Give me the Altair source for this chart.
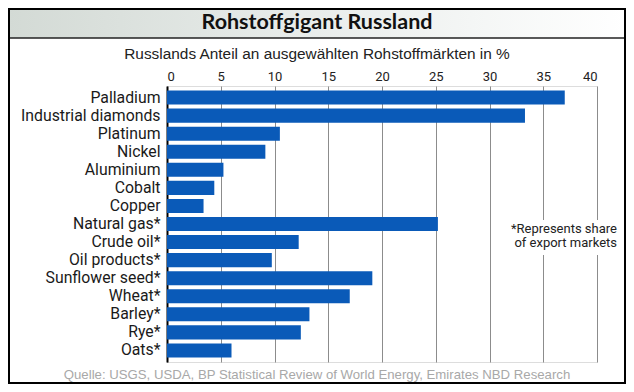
import altair as alt
import pandas as pd

# ---- data ----
commodities = ["Palladium", "Industrial diamonds", "Platinum", "Nickel", "Aluminium",
               "Cobalt", "Copper", "Natural gas*", "Crude oil*", "Oil products*",
               "Sunflower seed*", "Wheat*", "Barley*", "Rye*", "Oats*"]
shares = [37.0, 33.3, 10.5, 9.15, 5.25, 4.4, 3.4, 25.2, 12.25, 9.75, 19.1, 17.0, 13.25, 12.45, 6.0]
x_ticks = [0, 5, 10, 15, 20, 25, 30, 35, 40]

title_text = "Rohstoffgigant Russland"
subtitle_text = "Russlands Anteil an ausgewählten Rohstoffmärkten in %"
note_lines = ["*Represents share", "of export markets"]
source_text = "Quelle: USGS, USDA, BP Statistical Review of World Energy, Emirates NBD Research"

# ---- layout ----
W, H = 430, 276
PAD_L, PAD_T, PAD_R, PAD_B = 159, 78, 29, 22
TOT_W = PAD_L + W + PAD_R
TOT_H = PAD_T + H + PAD_B
HEAD_H = 30

df = pd.DataFrame({"commodity": commodities, "share": shares})
one = pd.DataFrame({"k": [0]})

bars = alt.Chart(df).mark_bar(color="#0a5ab8").encode(
    x=alt.X("share:Q",
            scale=alt.Scale(domain=[0, 40], nice=False),
            axis=alt.Axis(orient="top", values=x_ticks, title=None, grid=True,
                          gridColor="#8c8c8c", gridWidth=1, domain=False, ticks=False,
                          labelPadding=3, labelFont="Roboto", labelFontSize=13,
                          labelColor="#222222")),
    y=alt.Y("commodity:N", sort=commodities,
            scale=alt.Scale(paddingInner=0.22, paddingOuter=0.25),
            axis=alt.Axis(title=None, ticks=False, domain=True, domainColor="#000000",
                          domainWidth=2, labelPadding=7, labelFont="Roboto",
                          labelFontSize=15.8, labelColor="#1a1a1a", labelLimit=200)),
)

header = alt.Chart(one).mark_rect(
    fill=alt.LinearGradient(gradient="linear",
                            stops=[alt.GradientStop(color="#d3dad5", offset=0),
                                   alt.GradientStop(color="#e9edeb", offset=0.5),
                                   alt.GradientStop(color="#ffffff", offset=1)],
                            x1=0, x2=1, y1=0, y2=0)
).encode(x=alt.value(-PAD_L), x2=alt.value(TOT_W - PAD_L),
         y=alt.value(-PAD_T), y2=alt.value(-PAD_T + HEAD_H))

header_line = alt.Chart(one).mark_rule(color="#222222", strokeWidth=1.5).encode(
    x=alt.value(-PAD_L), x2=alt.value(TOT_W - PAD_L), y=alt.value(-PAD_T + HEAD_H))

border = alt.Chart(one).mark_rect(fillOpacity=0, stroke="#000000", strokeWidth=2).encode(
    x=alt.value(-PAD_L + 1), x2=alt.value(TOT_W - PAD_L - 1),
    y=alt.value(-PAD_T + 1), y2=alt.value(TOT_H - PAD_T - 1))

title = alt.Chart(one).mark_text(font="Lato", fontWeight="bold", fontSize=21.5,
                                 color="#111111", align="center", baseline="middle").encode(
    x=alt.value(150), y=alt.value(-PAD_T + 15), text=alt.value(title_text))

subtitle = alt.Chart(one).mark_text(font="Liberation Sans Narrow, Arial Narrow, Liberation Sans",
                                    fontSize=15.4, color="#222222", align="center",
                                    baseline="middle").encode(
    x=alt.value(150), y=alt.value(-PAD_T + 46), text=alt.value(subtitle_text))

note_bg = alt.Chart(one).mark_rect(fill="#ffffff").encode(
    x=alt.value(333), x2=alt.value(455), y=alt.value(134), y2=alt.value(169))

note = alt.Chart(one).mark_text(font="Roboto", fontSize=13, color="#222222", align="right",
                                baseline="middle", lineHeight=14).encode(
    x=alt.value(450), y=alt.value(143), text=alt.value(note_lines))

source = alt.Chart(one).mark_text(font="Liberation Sans Narrow, Arial Narrow, Liberation Sans",
                                  fontSize=13.2, color="#a8a8a8", align="center",
                                  baseline="middle").encode(
    x=alt.value(150), y=alt.value(H + 13), text=alt.value(source_text))

chart = alt.layer(header, header_line, bars, note_bg, note, title, subtitle, source, border).properties(
    width=W, height=H,
    padding={"left": PAD_L, "top": PAD_T, "right": PAD_R, "bottom": PAD_B},
    autosize=alt.AutoSizeParams(type="none"),
).configure_view(stroke=None).configure(background="#ffffff")

chart.save("out.html", embed_options={"renderer": "svg", "actions": False})
